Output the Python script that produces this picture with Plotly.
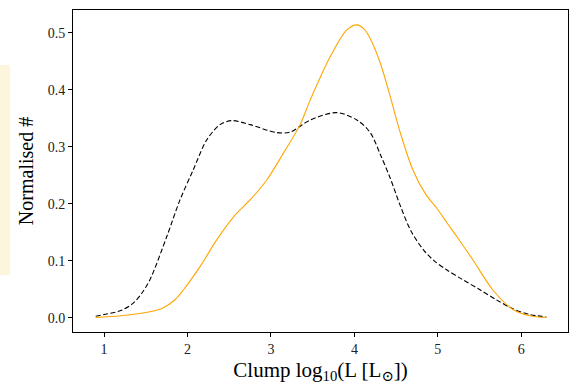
import plotly.graph_objects as go

# black dashed series
x_dash = [0.90, 1.00, 1.20, 1.35, 1.45, 1.55, 1.75, 1.91, 2.07, 2.23, 2.39, 2.53, 2.75, 3.07, 3.23,
          3.47, 3.79, 4.03, 4.19, 4.31, 4.43, 4.55, 4.68, 4.83, 4.95, 5.11, 5.30, 5.51, 5.70, 5.90, 6.10, 6.30]
y_dash = [0.003, 0.006, 0.013, 0.026, 0.043, 0.067, 0.142, 0.207, 0.260, 0.312, 0.339, 0.346, 0.339, 0.325, 0.326,
          0.347, 0.360, 0.347, 0.325, 0.287, 0.245, 0.197, 0.152, 0.119, 0.101, 0.084, 0.067, 0.049, 0.032, 0.016, 0.006, 0.002]

# orange series
x_orng = [0.90, 1.20, 1.55, 1.70, 1.85, 1.95, 2.15, 2.35, 2.55, 2.75, 2.95, 3.15, 3.35, 3.47, 3.71,
          3.91, 4.03, 4.12, 4.19, 4.31, 4.43, 4.55, 4.70, 4.85, 4.99, 5.11, 5.25, 5.42, 5.66, 5.90, 6.10, 6.30]
y_orng = [0.001, 0.004, 0.011, 0.017, 0.032, 0.049, 0.090, 0.137, 0.177, 0.207, 0.242, 0.289, 0.339, 0.382, 0.458,
          0.505, 0.514, 0.506, 0.490, 0.447, 0.388, 0.325, 0.260, 0.218, 0.192, 0.167, 0.138, 0.102, 0.049, 0.015, 0.004, 0.001]

x_ticks = [1, 2, 3, 4, 5, 6]
y_ticks = [0.0, 0.1, 0.2, 0.3, 0.4, 0.5]

fig = go.Figure()
fig.add_trace(go.Scatter(x=x_dash, y=y_dash, mode="lines",
                         line=dict(color="black", width=1.1, dash="5px,2.5px", shape="spline", smoothing=0.9),
                         showlegend=False))
fig.add_trace(go.Scatter(x=x_orng, y=y_orng, mode="lines",
                         line=dict(color="#FFA500", width=1.1, shape="spline", smoothing=0.9),
                         showlegend=False))

font_family = "Liberation Serif, DejaVu Serif, serif"
axis_common = dict(showline=True, linecolor="black", linewidth=1, mirror=True,
                   ticks="outside", ticklen=4, tickcolor="black", tickwidth=1,
                   showgrid=False, zeroline=False,
                   tickfont=dict(family=font_family, size=14, color="#222"))

fig.update_layout(
    width=577, height=390,
    margin=dict(l=73, r=9, t=10, b=58),
    plot_bgcolor="white", paper_bgcolor="white",
    xaxis=dict(range=[0.628, 6.56], tickvals=x_ticks, ticktext=[str(v) for v in x_ticks],
               title=dict(text="Clump log<sub>10</sub>(L [L<sub>⊙</sub>])",
                          font=dict(family=font_family, size=21, color="black"), standoff=6),
               **axis_common),
    yaxis=dict(range=[-0.0246, 0.540], tickvals=y_ticks, ticktext=[f"{v:.1f}" for v in y_ticks],
               title=dict(text="Normalised #",
                          font=dict(family=font_family, size=20, color="black"), standoff=8),
               **axis_common),
    shapes=[dict(type="rect", xref="paper", yref="paper",
                 x0=-0.1475, x1=-0.127, y0=0.177, y1=0.829,
                 fillcolor="#FDF5DC", line=dict(width=0), layer="below")],
)

fig.write_html("out.html")
